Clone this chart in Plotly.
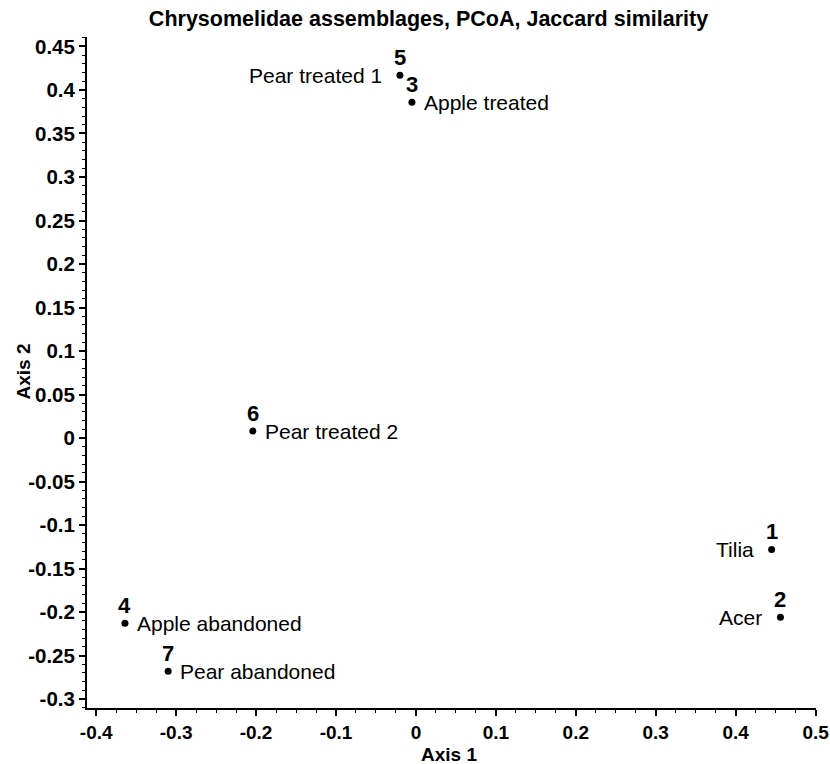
import plotly.graph_objects as go

# ---- data ----
site_ids = ["1", "2", "3", "4", "5", "6", "7"]
site_names = ["Tilia", "Acer", "Apple treated", "Apple abandoned",
              "Pear treated 1", "Pear treated 2", "Pear abandoned"]
axis1 = [0.445, 0.456, -0.005, -0.364, -0.020, -0.204, -0.310]
axis2 = [-0.128, -0.206, 0.386, -0.213, 0.417, 0.008, -0.268]
label_side = ["left", "left", "right", "right", "left", "right", "right"]

x_ticks = [-0.4, -0.3, -0.2, -0.1, 0.0, 0.1, 0.2, 0.3, 0.4, 0.5]
x_ticklabels = ["-0.4", "-0.3", "-0.2", "-0.1", "0", "0.1", "0.2", "0.3", "0.4", "0.5"]
y_ticks = [-0.3, -0.25, -0.2, -0.15, -0.1, -0.05, 0.0, 0.05, 0.1, 0.15,
           0.2, 0.25, 0.3, 0.35, 0.4, 0.45]
y_ticklabels = ["-0.3", "-0.25", "-0.2", "-0.15", "-0.1", "-0.05", "0", "0.05",
                "0.1", "0.15", "0.2", "0.25", "0.3", "0.35", "0.4", "0.45"]

FONT = "Liberation Sans, Arial, sans-serif"
W, H = 830, 764
L, R, T, B = 87, 14, 37, 56
PW, PH = W - L - R, H - T - B

fig = go.Figure()
fig.add_trace(go.Scatter(
    x=axis1, y=axis2, mode="markers",
    marker=dict(color="black", size=7),
    hoverinfo="skip", showlegend=False,
))

annotations = []
for xi, yi, sid, nm, side in zip(axis1, axis2, site_ids, site_names, label_side):
    annotations.append(dict(
        x=xi, y=yi, xref="x", yref="y", text=f"<b>{sid}</b>", showarrow=False,
        xanchor="center", yanchor="middle", yshift=18,
        font=dict(family=FONT, size=22, color="black"),
    ))
    annotations.append(dict(
        x=xi, y=yi, xref="x", yref="y", text=nm, showarrow=False,
        xanchor="right" if side == "left" else "left", yanchor="middle",
        xshift=-16 if side == "left" else 10,
        font=dict(family=FONT, size=21, color="black"),
    ))

# axis titles (page-pixel centres converted to plot-area paper coords)
annotations.append(dict(
    x=(448.7 - L) / PW, y=(H - B - 754) / PH, xref="paper", yref="paper",
    text="<b>Axis 1</b>", showarrow=False, xanchor="center", yanchor="middle",
    font=dict(family=FONT, size=19, color="black"),
))
annotations.append(dict(
    x=(22.5 - L) / PW, y=(H - B - 372) / PH, xref="paper", yref="paper",
    text="<b>Axis 2</b>", showarrow=False, xanchor="center", yanchor="middle",
    textangle=-90, font=dict(family=FONT, size=19, color="black"),
))

axis_common = dict(
    showgrid=False, zeroline=False, showline=True, linecolor="black", linewidth=2,
    ticks="outside", ticklen=6, tickwidth=1.5, tickcolor="black",
    tickmode="array", automargin=False,
)

fig.update_layout(
    width=W, height=H,
    paper_bgcolor="white", plot_bgcolor="white",
    margin=dict(l=L, r=R, t=T, b=B, autoexpand=False),
    title=dict(
        text="<b>Chrysomelidae assemblages, PCoA, Jaccard similarity</b>",
        x=428.5 / W, xref="container", xanchor="center",
        y=1 - 18 / H, yref="container", yanchor="middle",
        font=dict(family=FONT, size=21.5, color="black"),
    ),
    xaxis=dict(
        **axis_common, range=[-0.4115, 0.5005],
        tickvals=x_ticks, ticktext=x_ticklabels,
        tickfont=dict(family=FONT, size=19, color="black", weight="bold"),
        minor=dict(tick0=0, dtick=0.025, ticks="outside", ticklen=3,
                   tickwidth=1, tickcolor="black", showgrid=False),
    ),
    yaxis=dict(
        **axis_common, range=[-0.3103, 0.4609],
        tickvals=y_ticks, ticktext=y_ticklabels,
        tickfont=dict(family=FONT, size=20.5, color="black", weight="bold"),
        minor=dict(tick0=0, dtick=0.01, ticks="outside", ticklen=3,
                   tickwidth=1, tickcolor="black", showgrid=False),
    ),
    annotations=annotations,
)

fig.write_html(
    "out.html",
    config={"displayModeBar": False},
    post_script="document.body.style.margin='0';document.body.style.overflow='hidden';",
)
